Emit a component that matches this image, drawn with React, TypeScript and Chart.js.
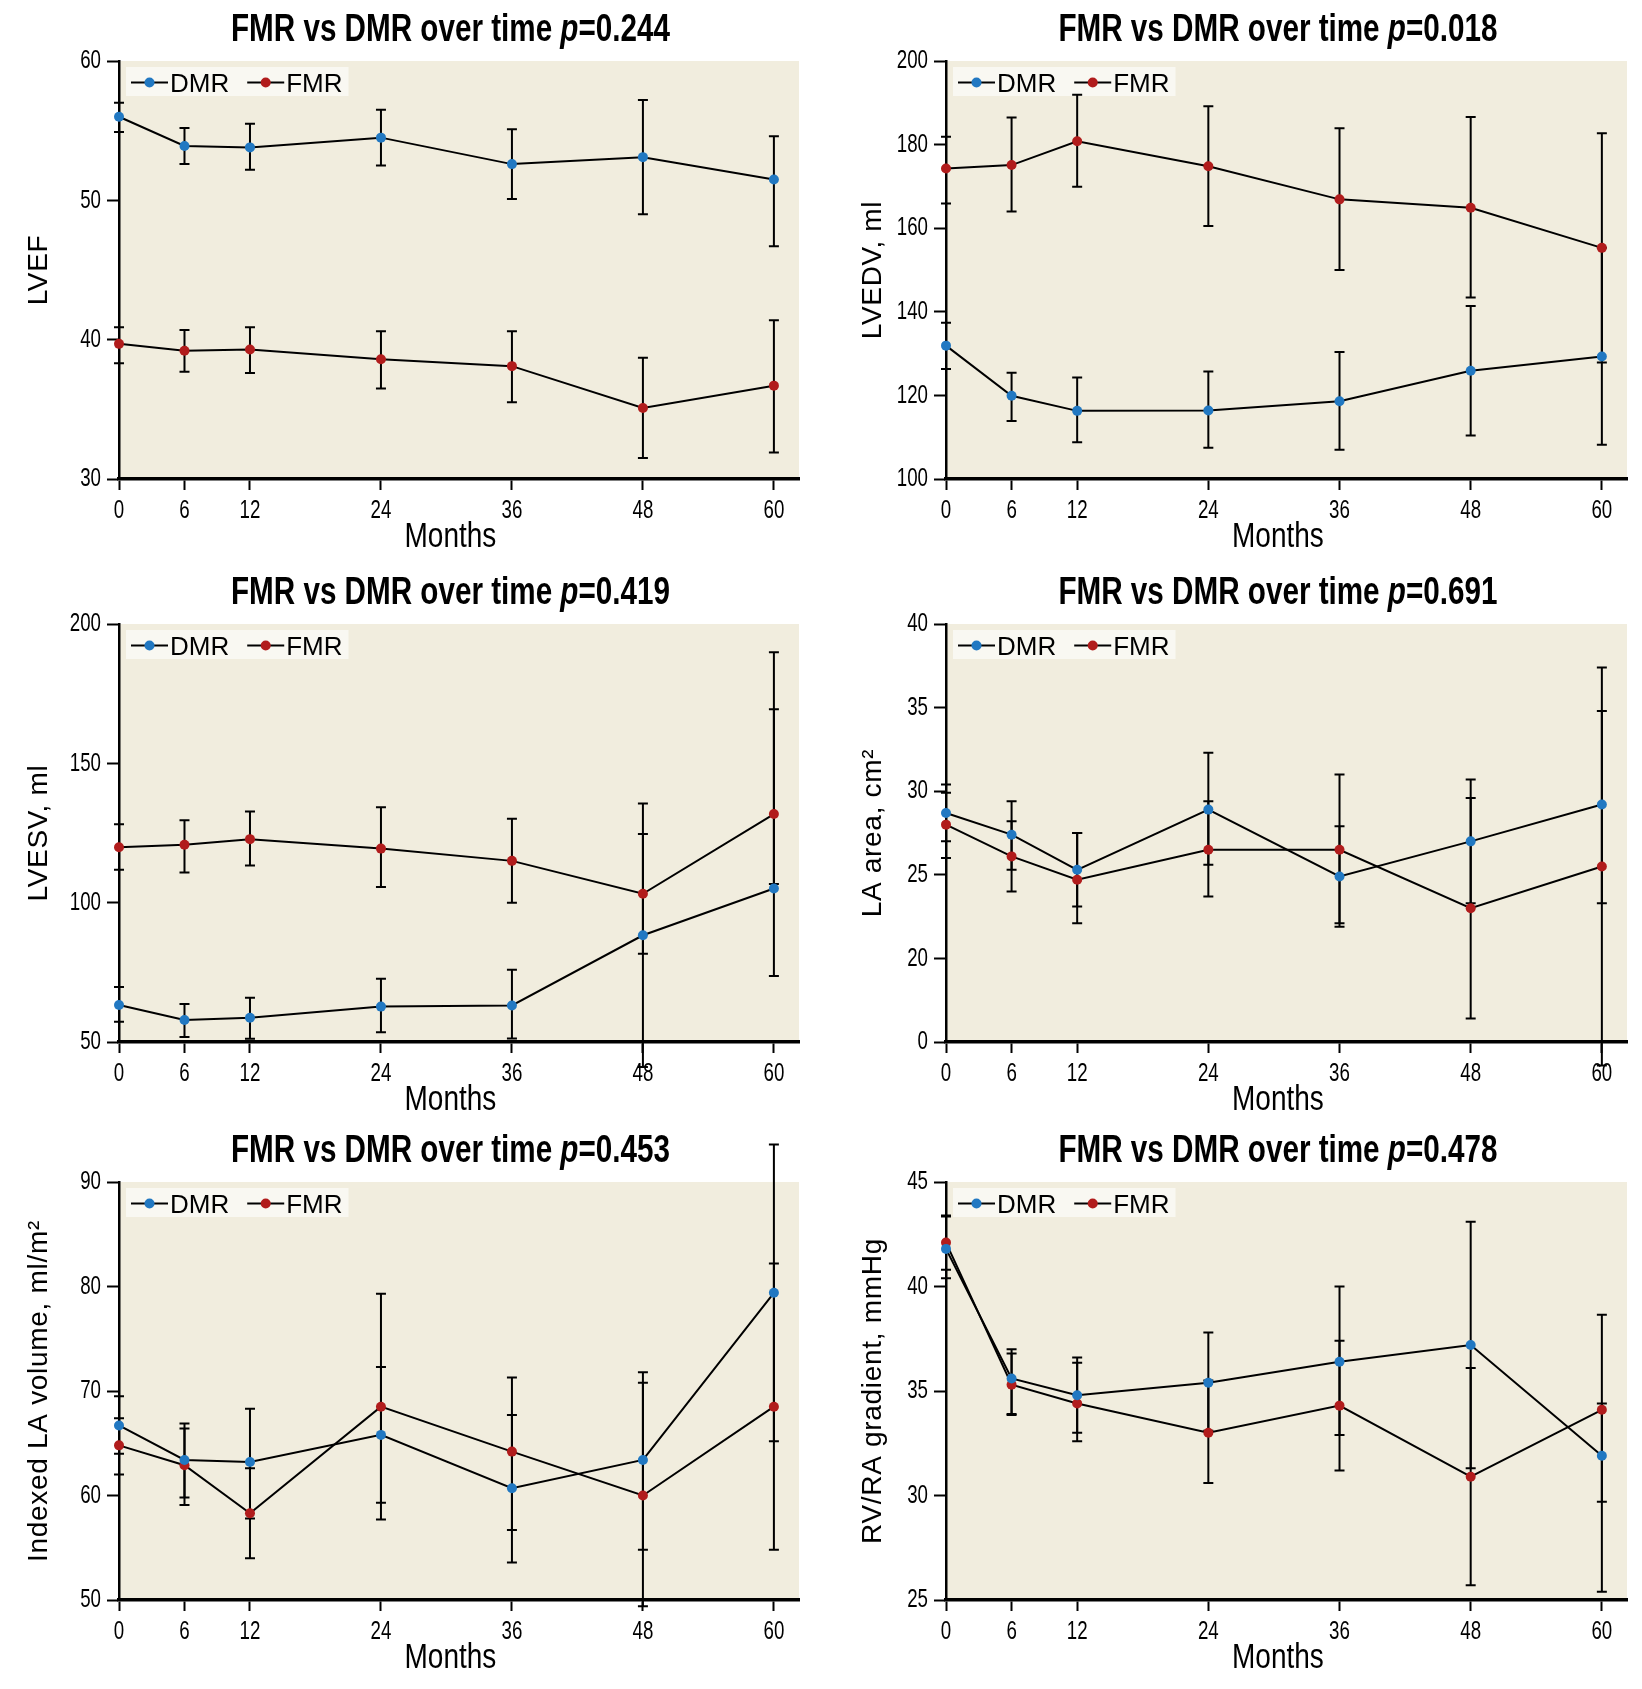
import React, { useEffect, useRef } from 'react';
import { Chart, registerables } from 'chart.js';

Chart.register(...registerables);

// ---------- shared data ----------
const months = [0, 6, 12, 24, 36, 48, 60];
const xTickValues = [0, 6, 12, 24, 36, 48, 60];
const seriesNames = ['DMR', 'FMR'];
const xAxisTitle = 'Months';
const titlePrefix = 'FMR vs DMR over time ';

// ---------- LVEF ----------
const lvefP = '0.244';
const lvefYTicks = [30, 40, 50, 60];
const lvefDmr = [56.0, 53.9, 53.8, 54.5, 52.6, 53.1, 51.5];
const lvefDmrLow = [54.9, 52.6, 52.2, 52.5, 50.1, 49.0, 46.7];
const lvefDmrHigh = [57.0, 55.2, 55.5, 56.5, 55.1, 57.2, 54.6];
const lvefFmr = [39.7, 39.2, 39.3, 38.6, 38.1, 35.1, 36.7];
const lvefFmrLow = [38.3, 37.7, 37.6, 36.5, 35.5, 31.5, 31.9];
const lvefFmrHigh = [40.9, 40.7, 40.9, 40.6, 40.6, 38.7, 41.4];

// ---------- LVEDV ----------
const lvedvP = '0.018';
const lvedvYTicks = [100, 120, 140, 160, 180, 200];
const lvedvDmr = [131.9, 119.9, 116.3, 116.4, 118.6, 125.9, 129.3];
const lvedvDmrLow = [126.3, 113.9, 108.8, 107.5, 107.0, 110.4, 108.2];
const lvedvDmrHigh = [137.4, 125.4, 124.3, 125.7, 130.4, 141.4, 155.3];
const lvedvFmr = [174.3, 175.1, 180.8, 174.8, 166.9, 164.9, 155.3];
const lvedvFmrLow = [165.9, 164.0, 169.9, 160.5, 150.0, 143.4, 127.9];
const lvedvFmrHigh = [181.9, 186.5, 191.9, 189.2, 183.9, 186.6, 182.7];

// ---------- LVESV ----------
const lvesvP = '0.419';
const lvesvYTicks = [50, 100, 150, 200];
const lvesvDmr = [63.3, 57.9, 58.7, 62.7, 63.1, 88.3, 105.1];
const lvesvDmrLow = [57.3, 51.8, 51.2, 53.5, 51.3, 41.0, 73.7];
const lvesvDmrHigh = [69.7, 63.6, 65.9, 72.7, 75.9, 124.6, 169.4];
const lvesvFmr = [119.9, 120.8, 122.8, 119.4, 115.0, 103.2, 131.8];
const lvesvFmrLow = [111.8, 110.8, 113.3, 105.6, 100.0, 81.7, 106.7];
const lvesvFmrHigh = [128.1, 129.6, 132.7, 134.2, 130.1, 135.6, 189.9];

// ---------- LA area (broken axis: bottom tick labelled 0) ----------
const laAreaP = '0.691';
const laAreaYTicks = [15, 20, 25, 30, 35, 40];
const laAreaYTickLabels = ['0', '20', '25', '30', '35', '40'];
const laAreaDmr = [28.7, 27.4, 25.3, 28.9, 24.9, 27.0, 29.2];
const laAreaDmrLow = [27.0, 25.3, 23.1, 25.6, 21.9, 23.3, 23.3];
const laAreaDmrHigh = [30.4, 29.4, 27.5, 32.3, 27.9, 30.7, 34.8];
const laAreaFmr = [28.0, 26.1, 24.7, 26.5, 26.5, 23.0, 25.5];
const laAreaFmrLow = [26.0, 24.0, 22.1, 23.7, 22.1, 16.4, 13.6];
const laAreaFmrHigh = [29.9, 28.2, 27.5, 29.4, 31.0, 29.6, 37.4];

// ---------- Indexed LA volume ----------
const laVolP = '0.453';
const laVolYTicks = [50, 60, 70, 80, 90];
const laVolDmr = [66.7, 63.4, 63.2, 65.8, 60.7, 63.4, 79.4];
const laVolDmrLow = [64.0, 59.8, 57.8, 59.3, 53.6, 54.8, 65.2];
const laVolDmrHigh = [69.5, 66.9, 68.3, 72.3, 67.7, 71.8, 93.6];
const laVolFmr = [64.8, 62.9, 58.3, 68.5, 64.2, 60.0, 68.5];
const laVolFmrLow = [62.0, 59.1, 54.0, 57.7, 56.7, 49.4, 54.8];
const laVolFmrHigh = [67.4, 66.4, 62.6, 79.3, 71.3, 70.8, 82.2];

// ---------- RV/RA gradient ----------
const rvraP = '0.478';
const rvraYTicks = [25, 30, 35, 40, 45];
const rvraDmr = [41.8, 35.6, 34.8, 35.4, 36.4, 37.2, 31.9];
const rvraDmrLow = [40.4, 33.9, 33.0, 33.1, 32.9, 31.3, 25.4];
const rvraDmrHigh = [43.35, 37.0, 36.6, 37.8, 40.0, 43.1, 34.4];
const rvraFmr = [42.1, 35.3, 34.4, 33.0, 34.3, 30.9, 34.1];
const rvraFmrLow = [40.8, 33.85, 32.6, 30.6, 31.2, 25.7, 29.7];
const rvraFmrHigh = [43.4, 36.8, 36.35, 35.5, 37.4, 36.1, 38.65];

// ---------- panel table built from the arrays ----------
const panels = [
  { p: lvefP, yTitle: 'LVEF', yTicks: lvefYTicks, yLabels: null,
    dmr: lvefDmr, dmrLow: lvefDmrLow, dmrHigh: lvefDmrHigh,
    fmr: lvefFmr, fmrLow: lvefFmrLow, fmrHigh: lvefFmrHigh },
  { p: lvedvP, yTitle: 'LVEDV, ml', yTicks: lvedvYTicks, yLabels: null,
    dmr: lvedvDmr, dmrLow: lvedvDmrLow, dmrHigh: lvedvDmrHigh,
    fmr: lvedvFmr, fmrLow: lvedvFmrLow, fmrHigh: lvedvFmrHigh },
  { p: lvesvP, yTitle: 'LVESV, ml', yTicks: lvesvYTicks, yLabels: null,
    dmr: lvesvDmr, dmrLow: lvesvDmrLow, dmrHigh: lvesvDmrHigh,
    fmr: lvesvFmr, fmrLow: lvesvFmrLow, fmrHigh: lvesvFmrHigh },
  { p: laAreaP, yTitle: 'LA area, cm\u00B2', yTicks: laAreaYTicks, yLabels: laAreaYTickLabels,
    dmr: laAreaDmr, dmrLow: laAreaDmrLow, dmrHigh: laAreaDmrHigh,
    fmr: laAreaFmr, fmrLow: laAreaFmrLow, fmrHigh: laAreaFmrHigh },
  { p: laVolP, yTitle: 'Indexed LA volume, ml/m\u00B2', yTicks: laVolYTicks, yLabels: null,
    dmr: laVolDmr, dmrLow: laVolDmrLow, dmrHigh: laVolDmrHigh,
    fmr: laVolFmr, fmrLow: laVolFmrLow, fmrHigh: laVolFmrHigh },
  { p: rvraP, yTitle: 'RV/RA gradient, mmHg', yTicks: rvraYTicks, yLabels: null,
    dmr: rvraDmr, dmrLow: rvraDmrLow, dmrHigh: rvraDmrHigh,
    fmr: rvraFmr, fmrLow: rvraFmrLow, fmrHigh: rvraFmrHigh },
];

// ---------- styles ----------
// "CondNN" / "SpacedMark" are not real fonts: they only tag text that the
// context wrapper below should condense horizontally (to NN %) or letter-space.
const TITLE_FONT = "Cond78, 'Liberation Sans', Arial, sans-serif";
const MONTHS_FONT = "Cond80, 'Liberation Sans', Arial, sans-serif";
const TICK_FONT = "Cond72, 'Liberation Sans', Arial, sans-serif";
const SPACED = "SpacedMark, 'Liberation Sans', Arial, sans-serif";
const SANS = "'Liberation Sans', Arial, sans-serif";
const BG = '#f1edde';
const LEGEND_BG = '#f9f8f2';
const BLUE = '#2178c2';
const RED = '#b11c1c';
const CANVAS_W = 813;
const ROW_H = [563, 558, 560];
const PLOT_TOP = 53;
const PLOT_H = 418;
const X_MAX = 62.3;
const TEXT_SHIFT = 4;

function patchContext(ctx: any) {
  if (!ctx || ctx.__patched) return;
  ctx.__patched = true;
  const orig = ctx.fillText;
  ctx.fillText = function (text: string, x: number, y: number, maxWidth?: number) {
    const f: string = this.font || '';
    const m = f.match(/Cond(\d+)/);
    if (m) {
      const w = this.measureText(text).width * (Number(m[1]) / 100);
      return orig.call(this, text, x, y, maxWidth !== undefined ? Math.min(maxWidth, w) : w);
    }
    if (f.indexOf('SpacedMark') >= 0) {
      const prev = this.letterSpacing;
      this.letterSpacing = '0.7px';
      const r = maxWidth !== undefined ? orig.call(this, text, x, y, maxWidth) : orig.call(this, text, x, y);
      this.letterSpacing = prev;
      return r;
    }
    return maxWidth !== undefined ? orig.call(this, text, x, y, maxWidth) : orig.call(this, text, x, y);
  };
}

function condensedWidth(ctx: any, text: string) {
  const m = (ctx.font || '').match(/Cond(\d+)/);
  const r = m ? Number(m[1]) / 100 : 1;
  return ctx.measureText(text).width * r;
}

function Panel({ cfg, col, height }: any) {
  const ref = useRef<HTMLCanvasElement | null>(null);

  useEffect(() => {
    const canvas = ref.current;
    if (!canvas) return;
    patchContext(canvas.getContext('2d'));
    const yAxisWidth = col === 0 ? 111 : 125;
    const rightPad = col === 0 ? 22 : 7;
    const yTitlePad = col === 0 ? 14 : 35;
    const xAxisHeight = height - PLOT_TOP - PLOT_H;
    const series = [
      { name: seriesNames[0], vals: cfg.dmr, lo: cfg.dmrLow, hi: cfg.dmrHigh, color: BLUE },
      { name: seriesNames[1], vals: cfg.fmr, lo: cfg.fmrLow, hi: cfg.fmrHigh, color: RED },
    ];

    const bgPlugin = {
      id: 'plotBg',
      beforeDraw(chart: any) {
        const { ctx, chartArea: a } = chart;
        ctx.save();
        ctx.fillStyle = BG;
        ctx.fillRect(a.left, a.top, a.right - a.left, a.bottom - a.top);
        ctx.restore();
      },
    };

    const legendAndErrors = {
      id: 'legendAndErrors',
      beforeDatasetsDraw(chart: any) {
        const { ctx, chartArea: a, scales } = chart;
        // legend box
        ctx.save();
        ctx.font = `26px ${SANS}`;
        const boxL = a.left + 7;
        const boxT = a.top + 6;
        const boxH = 29;
        const lineY = boxT + 15.5;
        let cx = boxL + 5;
        const items: any[] = [];
        series.forEach((s, i) => {
          const w = ctx.measureText(s.name).width;
          items.push({ x: cx, s, w });
          cx += 37 + 2 + w + (i === 0 ? 18 : 6);
        });
        ctx.fillStyle = LEGEND_BG;
        ctx.fillRect(boxL, boxT, cx - boxL, boxH);
        items.forEach(({ x, s }) => {
          ctx.strokeStyle = '#000';
          ctx.lineWidth = 2;
          ctx.beginPath();
          ctx.moveTo(x, lineY);
          ctx.lineTo(x + 37, lineY);
          ctx.stroke();
          ctx.fillStyle = s.color;
          ctx.beginPath();
          ctx.arc(x + 18.5, lineY, 5, 0, Math.PI * 2);
          ctx.fill();
          ctx.fillStyle = '#000';
          ctx.textBaseline = 'alphabetic';
          ctx.textAlign = 'left';
          ctx.fillText(s.name, x + 39, boxT + 25);
        });
        // error bars
        ctx.strokeStyle = '#000';
        ctx.lineWidth = 2;
        series.forEach((s) => {
          months.forEach((m, j) => {
            const px = scales.x.getPixelForValue(m);
            const y1 = scales.y.getPixelForValue(s.lo[j]);
            const y2 = scales.y.getPixelForValue(s.hi[j]);
            ctx.beginPath();
            ctx.moveTo(px, y1);
            ctx.lineTo(px, y2);
            ctx.moveTo(px - 5, y1);
            ctx.lineTo(px + 5, y1);
            ctx.moveTo(px - 5, y2);
            ctx.lineTo(px + 5, y2);
            ctx.stroke();
          });
        });
        ctx.restore();
      },
    };

    const textPlugin = {
      id: 'titles',
      afterDraw(chart: any) {
        const { ctx, chartArea: a, scales } = chart;
        const center = scales.x.getPixelForValue(30) + TEXT_SHIFT;
        ctx.save();
        ctx.fillStyle = '#000';
        ctx.textBaseline = 'alphabetic';
        ctx.textAlign = 'left';
        const fNorm = `bold 38px ${TITLE_FONT}`;
        const fItal = `italic bold 38px ${TITLE_FONT}`;
        const parts = [
          { t: titlePrefix, f: fNorm },
          { t: 'p', f: fItal },
          { t: '=' + cfg.p, f: fNorm },
        ];
        let total = 0;
        parts.forEach((pt: any) => {
          ctx.font = pt.f;
          pt.w = condensedWidth(ctx, pt.t);
          total += pt.w;
        });
        let x = center - total / 2;
        parts.forEach((pt: any) => {
          ctx.font = pt.f;
          ctx.fillText(pt.t, x, 33);
          x += pt.w;
        });
        ctx.font = `35px ${MONTHS_FONT}`;
        ctx.textAlign = 'center';
        ctx.fillText(xAxisTitle, center, a.bottom + 68);
        ctx.restore();
      },
    };

    const chart = new Chart(canvas, {
      type: 'line',
      data: {
        datasets: series.map((s) => ({
          label: s.name,
          data: months.map((m, j) => ({ x: m, y: s.vals[j] })),
          borderColor: '#000',
          borderWidth: 2,
          tension: 0,
          pointRadius: 5,
          pointHoverRadius: 5,
          pointBorderWidth: 0,
          pointBackgroundColor: s.color,
          pointBorderColor: s.color,
          clip: false,
          fill: false,
        })),
      },
      options: {
        animation: false,
        responsive: false,
        maintainAspectRatio: false,
        events: [],
        layout: { padding: { top: PLOT_TOP, right: rightPad, left: 0, bottom: 0 } },
        plugins: {
          legend: { display: false },
          tooltip: { enabled: false },
          title: { display: false },
        },
        scales: {
          x: {
            type: 'linear',
            min: 0,
            max: X_MAX,
            afterBuildTicks: (s: any) => {
              s.ticks = xTickValues.map((v) => ({ value: v }));
            },
            afterFit: (s: any) => {
              s.height = xAxisHeight;
            },
            ticks: {
              autoSkip: false,
              maxRotation: 0,
              color: '#000',
              padding: 5,
              font: { family: TICK_FONT, size: 26 },
              callback: (v: any) => String(v),
            },
            grid: {
              drawOnChartArea: false,
              drawTicks: true,
              tickLength: 11,
              tickWidth: 2,
              tickColor: '#000',
            },
            border: { display: true, color: '#000', width: 3.5 },
            title: { display: false },
          },
          y: {
            type: 'linear',
            min: cfg.yTicks[0],
            max: cfg.yTicks[cfg.yTicks.length - 1],
            afterBuildTicks: (s: any) => {
              s.ticks = cfg.yTicks.map((v: number) => ({ value: v }));
            },
            afterFit: (s: any) => {
              s.width = yAxisWidth;
            },
            ticks: {
              color: '#000',
              padding: 6,
              font: { family: TICK_FONT, size: 26 },
              callback: (v: any) => {
                const i = cfg.yTicks.indexOf(v);
                return cfg.yLabels && i >= 0 ? cfg.yLabels[i] : String(v);
              },
            },
            grid: {
              drawOnChartArea: false,
              drawTicks: true,
              tickLength: 12,
              tickWidth: 2,
              tickColor: '#000',
            },
            border: { display: true, color: '#000', width: 2.5 },
            title: {
              display: true,
              text: cfg.yTitle,
              color: '#000',
              font: { family: SPACED, size: 28 },
              padding: { top: yTitlePad, bottom: 0 },
            },
          },
        },
      },
      plugins: [bgPlugin, legendAndErrors, textPlugin],
    } as any);

    return () => chart.destroy();
  }, [cfg, col, height]);

  return (
    <canvas
      ref={ref}
      width={CANVAS_W}
      height={height}
      style={{ display: 'block', width: CANVAS_W, height }}
    />
  );
}

export default function App() {
  return (
    <div
      style={{
        display: 'grid',
        gridTemplateColumns: `${CANVAS_W}px ${CANVAS_W}px`,
        width: CANVAS_W * 2,
        background: '#fff',
      }}
    >
      {panels.map((cfg, i) => (
        <Panel key={i} cfg={cfg} col={i % 2} height={ROW_H[Math.floor(i / 2)]} />
      ))}
    </div>
  );
}
